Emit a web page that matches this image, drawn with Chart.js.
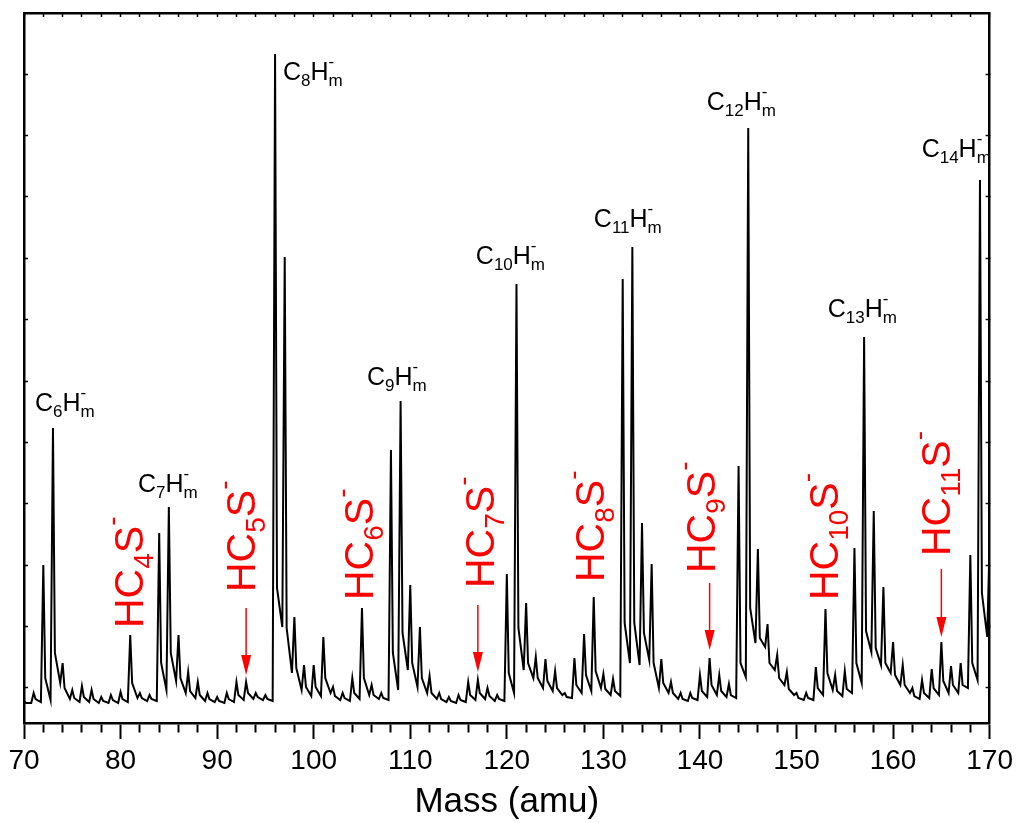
<!DOCTYPE html>
<html>
<head>
<meta charset="utf-8">
<script src="https://cdn.jsdelivr.net/npm/chart.js@4/dist/chart.umd.min.js"></script>
<style>
  html, body { margin: 0; padding: 0; background: #ffffff; }
  #wrap { width: 1018px; height: 823px; }
</style>
</head>
<body>
<div id="wrap"><canvas id="c" width="1018" height="823"></canvas></div>
<script>
// ---- data (intensity in arbitrary units) ----
const masses = [70,71,72,73,74,75,76,77,78,79,80,81,82,83,84,85,86,87,88,89,90,91,92,93,94,95,96,97,98,99,100,101,102,103,104,105,106,107,108,109,110,111,112,113,114,115,116,117,118,119,120,121,122,123,124,125,126,127,128,129,130,131,132,133,134,135,136,137,138,139,140,141,142,143,144,145,146,147,148,149,150,151,152,153,154,155,156,157,158,159,160,161,162,163,164,165,166,167,168,169,170];
// peak maximum at each integer mass
const apex = [22,30,158,295,60,33,37,33,26,28,31,88,30,28,190,216,88,51,41,30,26,30,41,41,30,28,669,466,106,58,58,86,36,30,45,115,38,30,273,322,138,96,47,30,26,28,41,43,35,28,149,439,120,66,64,52,30,65,89,126,49,44,444,476,200,159,64,41,30,30,48,65,48,39,257,595,174,99,68,51,30,30,56,114,48,52,175,386,212,136,81,58,35,43,54,81,57,60,168,543,183];
// intensity on the falling tail just after each peak
const tail = [20,24,45,70,35,25,26,24,22,23,24,40,25,24,60,70,45,32,28,24,22,24,28,30,26,24,135,95,55,36,36,45,27,25,30,45,28,25,70,90,60,45,30,24,22,23,28,30,27,24,50,95,60,45,42,35,26,38,48,52,34,32,100,100,90,60,40,30,24,25,32,38,32,28,60,115,85,60,45,34,25,25,35,50,32,34,60,92,75,60,48,38,27,30,35,42,38,38,60,130,null];
// minimum between each peak and the next one
const valley = [20,21,23,40,24,21,21,20,20,20,21,25,22,22,33,42,30,25,22,21,20,21,23,24,23,22,96,50,33,27,27,30,23,22,24,28,24,23,33,53,36,30,24,21,20,21,23,24,22,22,30,53,45,35,32,28,25,30,32,35,28,27,60,58,63,35,30,24,22,23,26,28,26,25,46,80,76,53,38,28,23,23,28,33,27,30,40,71,58,50,38,30,24,25,28,30,30,35,43,86,null];

const xTickLabels = [70,80,90,100,110,120,130,140,150,160,170];

// species labels
const hydroLabels = [
  {n:'6',  x:71.14,  y:312},
  {n:'7',  x:81.80,  y:231},
  {n:'8',  x:96.81,  y:643},
  {n:'9',  x:105.51, y:338},
  {n:'10', x:116.79, y:459},
  {n:'11', x:129.01, y:496},
  {n:'12', x:140.70, y:613},
  {n:'13', x:153.23, y:406},
  {n:'14', x:162.96, y:566}
];
const sulfurLabels = [
  {n:'4',  x:82.32,  y:95},
  {n:'5',  x:93.91,  y:131},
  {n:'6',  x:106.13, y:123},
  {n:'7',  x:118.65, y:135},
  {n:'8',  x:130.04, y:141},
  {n:'9',  x:141.53, y:150},
  {n:'10', x:154.27, y:123},
  {n:'11', x:165.86, y:167}
];
const arrows = [
  {x:93,  from:115, to:48},
  {x:117, from:118, to:51},
  {x:141, from:140, to:73},
  {x:165, from:154, to:86}
];

// ---- build the trace ----
const points = [];
masses.forEach((m, i) => {
  points.push({x: m, y: apex[i]});
  if (tail[i] != null) points.push({x: m + 0.2, y: tail[i]});
  if (valley[i] != null) points.push({x: m + 0.75, y: valley[i]});
});

const Y_MAX = 710, Y_TICK0 = 35.3, Y_TICKSTEP = 61.34;
function yTicks(scale) {
  const t = [];
  for (let v = Y_TICK0; v < Y_MAX - 1; v += Y_TICKSTEP) t.push({value: v});
  scale.ticks = t;
}
function xTicks(scale) {
  const t = [];
  for (let v = 70; v <= 170; v += 2) t.push({value: v});
  scale.ticks = t;
}

const SANS = "'Liberation Sans', Arial, sans-serif";

function drawParts(ctx, parts, main, small, subDy, supDy) {
  let x = 0;
  for (let i = 0; i < parts.length; i++) {
    const p = parts[i];
    if (p.k === 'n') {
      ctx.font = main + 'px ' + SANS;
      ctx.fillText(p.t, x, 0);
      x += ctx.measureText(p.t).width;
    } else if (p.k === 'sub') {
      ctx.font = small + 'px ' + SANS;
      ctx.fillText(p.t, x, subDy);
      x += ctx.measureText(p.t).width;
    } else if (p.k === 'supsub') {
      ctx.font = small + 'px ' + SANS;
      ctx.fillText(p.sup, x, supDy);
      ctx.fillText(p.sub, x, subDy);
      x += Math.max(ctx.measureText(p.sup).width, ctx.measureText(p.sub).width);
    } else if (p.k === 'sup') {
      ctx.font = small + 'px ' + SANS;
      ctx.fillText(p.t, x, supDy);
      x += ctx.measureText(p.t).width;
    }
  }
}

const annotate = {
  id: 'annotate',
  afterDatasetsDraw(chart) {
    const ctx = chart.ctx;
    const xs = chart.scales.x, ys = chart.scales.y;
    ctx.save();
    ctx.textBaseline = 'alphabetic';
    ctx.textAlign = 'left';
    // black hydrocarbon labels
    ctx.fillStyle = '#000';
    hydroLabels.forEach(l => {
      ctx.save();
      ctx.translate(xs.getPixelForValue(l.x), ys.getPixelForValue(l.y));
      drawParts(ctx, [{k:'n',t:'C'},{k:'sub',t:l.n},{k:'n',t:'H'},{k:'supsub',sup:'-',sub:'m'}], 25, 17, 6, -13);
      ctx.restore();
    });
    // red rotated labels
    ctx.fillStyle = '#ff0000';
    sulfurLabels.forEach(l => {
      ctx.save();
      ctx.translate(xs.getPixelForValue(l.x), ys.getPixelForValue(l.y));
      ctx.rotate(-Math.PI / 2);
      drawParts(ctx, [{k:'n',t:'HC'},{k:'sub',t:l.n},{k:'n',t:'S'},{k:'sup',t:'-'}], 41, 28, 10, -22);
      ctx.restore();
    });
    // arrows
    ctx.strokeStyle = '#ff0000';
    ctx.lineWidth = 1.5;
    arrows.forEach(a => {
      const px = xs.getPixelForValue(a.x);
      const y1 = ys.getPixelForValue(a.from), y2 = ys.getPixelForValue(a.to);
      ctx.beginPath();
      ctx.moveTo(px, y1);
      ctx.lineTo(px, y2 - 18);
      ctx.stroke();
      ctx.beginPath();
      ctx.moveTo(px - 5, y2 - 20);
      ctx.lineTo(px + 5, y2 - 20);
      ctx.lineTo(px, y2);
      ctx.closePath();
      ctx.fill();
    });
    ctx.restore();
  }
};

new Chart(document.getElementById('c'), {
  type: 'line',
  data: {
    datasets: [{
      data: points,
      borderColor: '#000000',
      borderWidth: 2,
      pointRadius: 0,
      tension: 0,
      fill: false,
      xAxisID: 'x',
      yAxisID: 'y'
    }]
  },
  options: {
    responsive: false,
    devicePixelRatio: 1,
    animation: false,
    layout: { padding: 0 },
    plugins: { legend: { display: false }, tooltip: { enabled: false } },
    scales: {
      x: {
        type: 'linear', position: 'bottom', min: 70, max: 170,
        afterBuildTicks: xTicks,
        afterFit(s) { s.height = 100; },
        ticks: {
          autoSkip: false, maxRotation: 0, minRotation: 0, padding: 5,
          color: '#000', font: { family: SANS, size: 28 },
          callback: v => xTickLabels.includes(v) ? String(v) : ''
        },
        grid: {
          drawOnChartArea: false, drawTicks: true, tickLength: 16, tickWidth: 2, tickColor: '#000',
          tickBorderDash: c => (c.tick && xTickLabels.includes(c.tick.value)) ? [] : [8, 40]
        },
        border: { display: true, color: '#000', width: 2.5 },
        title: { display: true, text: 'Mass (amu)', color: '#000', font: { family: SANS, size: 35 }, padding: { top: 0, bottom: 0 } }
      },
      x2: {
        type: 'linear', position: 'top', min: 70, max: 170,
        afterBuildTicks: xTicks,
        afterFit(s) { s.height = 13; },
        ticks: { display: false },
        grid: { drawOnChartArea: false, drawTicks: true, tickLength: -4, tickWidth: 1.5, tickColor: '#000' },
        border: { display: true, color: '#000', width: 2.5 }
      },
      y: {
        type: 'linear', position: 'left', min: 0, max: Y_MAX,
        afterBuildTicks: yTicks,
        afterFit(s) { s.width = 24; },
        ticks: { display: false },
        grid: { drawOnChartArea: false, drawTicks: true, tickLength: -4, tickWidth: 1.5, tickColor: '#000' },
        border: { display: true, color: '#000', width: 2.5 }
      },
      y2: {
        type: 'linear', position: 'right', min: 0, max: Y_MAX,
        afterBuildTicks: yTicks,
        afterFit(s) { s.width = 28; },
        ticks: { display: false },
        grid: { drawOnChartArea: false, drawTicks: true, tickLength: -4, tickWidth: 1.5, tickColor: '#000' },
        border: { display: true, color: '#000', width: 2.5 }
      }
    }
  },
  plugins: [annotate]
});
</script>
</body>
</html>
